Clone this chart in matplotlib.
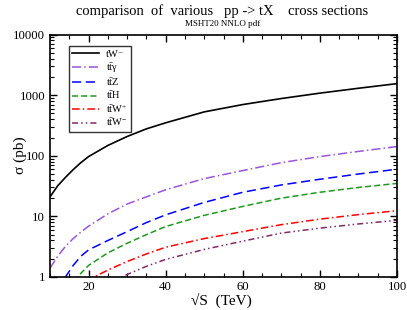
import numpy as np
import matplotlib
matplotlib.use("Agg")
import matplotlib.pyplot as plt
from matplotlib.ticker import MultipleLocator, LogLocator, NullFormatter, FixedLocator, FixedFormatter

# sqrt(S) in TeV
rs = [10, 12, 14, 16, 18, 20, 25, 30, 35, 40, 50, 60, 70, 80, 90, 100]

# cross sections (pb)
tW_minus = [21, 32, 44, 59, 77, 97, 148, 208, 278, 350, 530, 700, 880, 1080, 1300, 1550]
tt_gamma = [1.4, 2.2, 3.2, 4.3, 5.5, 6.9, 11, 16, 21, 27.5, 42, 57, 77, 97, 118, 142]
tt_Z = [0.4, 0.65, 1.0, 1.55, 2.2, 2.8, 4.0, 5.6, 7.9, 10.6, 17, 25, 33, 41, 50, 60]
tt_H = [0.3, 0.45, 0.6, 0.8, 1.15, 1.55, 2.5, 3.6, 5.0, 6.8, 10.4, 14.6, 20, 25, 30, 35]
ttW_plus = [0.3, 0.4, 0.5, 0.6, 0.75, 0.9, 1.3, 1.8, 2.4, 3.1, 4.3, 5.6, 7.3, 9.0, 10.7, 12.4]
ttW_minus = [0.2, 0.25, 0.3, 0.38, 0.45, 0.55, 0.75, 1.1, 1.5, 1.95, 2.85, 3.9, 5.3, 6.4, 7.5, 8.6]

labels = ["tW\u207b", r"t$\mathregular{\bar{t}}\gamma$", r"t$\mathregular{\bar{t}}$Z",
          r"t$\mathregular{\bar{t}}$H", r"t$\mathregular{\bar{t}}$W$^{+}$", r"t$\mathregular{\bar{t}}$W$^{\mathregular{-}}$"]

plt.rcParams['font.family'] = ['Liberation Serif', 'DejaVu Serif']
plt.rcParams['mathtext.fontset'] = 'custom'
plt.rcParams['mathtext.rm'] = 'Liberation Serif'
plt.rcParams['mathtext.it'] = 'Liberation Serif'

fig = plt.figure(figsize=(4.07, 3.10), dpi=100)
ax = fig.add_axes([0.1229, 0.1065, 0.8525, 0.782])

ax.plot(rs, tW_minus, color='black', lw=1.2, label=labels[0])
ax.plot(rs, tt_gamma, color='#9955dd', lw=1.1, dashes=(6, 2, 1, 2), label=labels[1])
ax.plot(rs, tt_Z, color='#0000ff', lw=1.1, dashes=(6, 3), label=labels[2])
ax.plot(rs, tt_H, color='#1f9a1f', lw=1.1, dashes=(4, 2), label=labels[3])
ax.plot(rs, ttW_plus, color='#ff0000', lw=1.1, dashes=(5, 2, 1, 2), label=labels[4])
ax.plot(rs, ttW_minus, color='#7f2a6a', lw=1.1, dashes=(4, 2, 1, 2, 1, 2), label=labels[5])

ax.set_yscale('log')
ax.set_xlim(10, 100)
ax.set_ylim(1, 10000)

ax.xaxis.set_major_locator(MultipleLocator(20))
ax.xaxis.set_minor_locator(MultipleLocator(5))
ax.yaxis.set_major_locator(FixedLocator([1, 10, 100, 1000, 10000]))
ax.yaxis.set_major_formatter(FixedFormatter(['1', '10', '100', '1000', '10000']))
ax.yaxis.set_minor_locator(LogLocator(base=10, subs=np.arange(2, 10), numticks=20))
ax.yaxis.set_minor_formatter(NullFormatter())

ax.tick_params(which='both', direction='in', top=True, right=True, labelsize=9.2)
ax.tick_params(which='major', length=5, width=1)
ax.tick_params(which='minor', length=3, width=0.8)
ax.tick_params(axis='x', pad=3)
for s in ax.spines.values():
    s.set_linewidth(1.2)

# axis labels placed by hand
fig.text(0.545, 0.032, "\u221aS  (TeV)", ha='center', va='center', fontsize=11)
fig.text(0.05, 0.50, "\u03c3 (pb)", ha='center', va='center', fontsize=11, rotation=90)

fig.text(0.545, 0.965, "comparison  of  various   pp -> tX    cross sections",
         ha='center', va='center', fontsize=10.5)
fig.text(0.548, 0.922, "MSHT20 NNLO pdf", ha='center', va='center', fontsize=6.5)

leg = ax.legend(loc='upper left', bbox_to_anchor=(0.045, 0.965), fontsize=7.5,
                frameon=True, fancybox=False, handlelength=2.6, labelspacing=0.15,
                borderpad=0.35, handletextpad=0.6, borderaxespad=0.3)
leg.get_frame().set_edgecolor('black')
leg.get_frame().set_linewidth(1.0)

fig.savefig("out.png", dpi=100)
